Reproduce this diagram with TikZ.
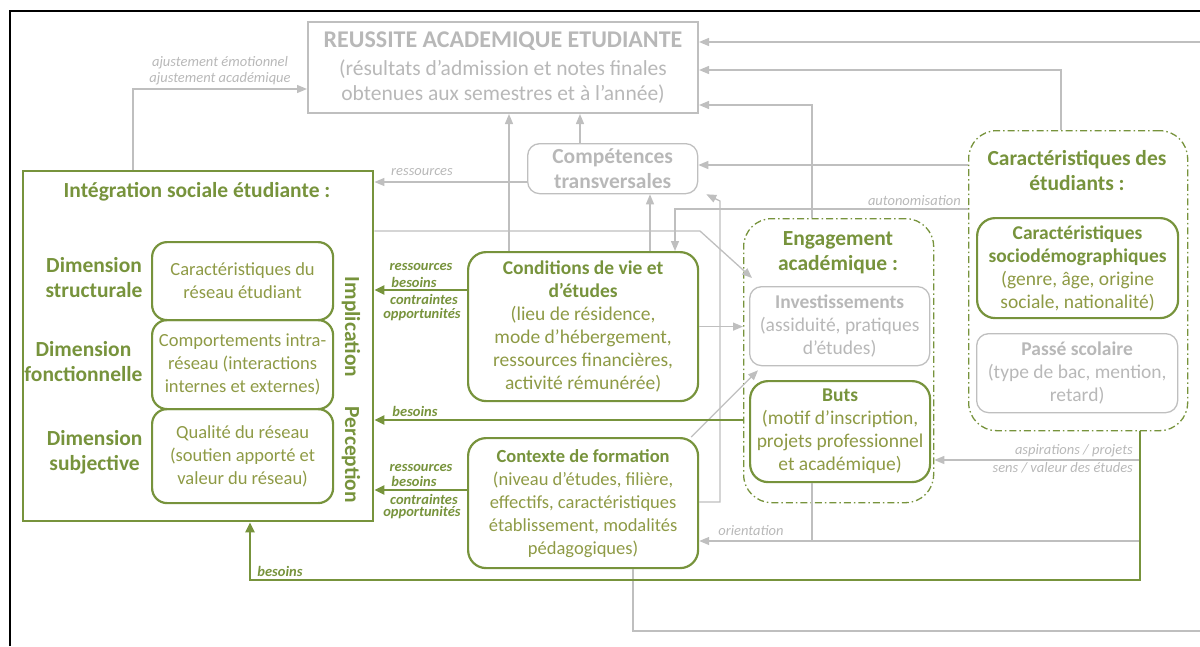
\documentclass[tikz,border=0pt]{standalone}
\usepackage{fontspec}
\setmainfont{Carlito}
\usetikzlibrary{arrows.meta,calc}
\definecolor{ogreen}{HTML}{77933C}
\definecolor{gtext}{HTML}{8E9A45}
\definecolor{lgrey}{HTML}{BFBFBF}
\definecolor{tgrey}{HTML}{B8B8B8}
\newcommand{\fsbody}{\fontsize{18.5}{23}\selectfont}
\newcommand{\fsbodyL}{\fontsize{19.5}{23}\selectfont}
\newcommand{\fsbig}{\fontsize{21.5}{25}\selectfont}
\newcommand{\fshead}{\fontsize{24}{28}\selectfont\bfseries}
\newcommand{\fstitle}{\fontsize{21.5}{25}\selectfont\bfseries}
\newcommand{\fslab}{\fontsize{14.5}{16}\selectfont\itshape}
\tikzset{
  gline/.style={draw=lgrey, line width=1.3pt},
  garrow/.style={gline, -{Triangle[length=10pt,width=8pt]}},
  gnline/.style={draw=ogreen, line width=2.2pt},
  gnarrow/.style={gnline, -{Triangle[length=10pt,width=9pt]}},
  greenbox/.style={draw=ogreen, line width=2.2pt, rounded corners=18pt, align=center, text=gtext, font=\fsbody, inner sep=2pt, anchor=north west},
  greybox/.style={draw=lgrey, line width=1.3pt, rounded corners=12pt, align=center, text=tgrey, font=\fsbodyL, inner sep=2pt, anchor=north west},
  dashbox/.style={draw=ogreen, line width=1.3pt, rounded corners=28pt, dash pattern=on 7pt off 3pt on 1.5pt off 3pt, anchor=north west, inner sep=0pt},
  greylab/.style={text=tgrey, font=\fslab, inner sep=0pt},
  greenlab/.style={text=ogreen, font=\fslab\bfseries, inner sep=0pt},
  dimlab/.style={text=ogreen, font=\fstitle, align=center, anchor=east},
}
\begin{document}
\begin{tikzpicture}[x=1pt,y=-1pt]
\useasboundingbox (0,0) rectangle (1200,646);
% frame
\draw[black, line width=1.4pt] (10,646) -- (10,11) -- (1200,11);

% REUSSITE
\node[draw=lgrey, line width=2pt, align=center, text=tgrey, font=\fsbig, anchor=north west, minimum width=390pt, minimum height=91pt, inner sep=0pt] (reu) at (307,21)
 {{\fshead REUSSITE ACADEMIQUE ETUDIANTE}\\[3pt](résultats d’admission et notes finales\\obtenues aux semestres et à l’année)};

% Competences
\node[greybox, minimum width=170pt, minimum height=50pt, font=\fstitle, inner sep=0pt] (comp) at (527,143) {Compétences\\transversales};

% Integration
\node[draw=ogreen, line width=2.4pt, anchor=north west, minimum width=350pt, minimum height=350pt, inner sep=0pt] (integ) at (22,170) {};
\node[text=ogreen, font=\fstitle] (integT) at (197,192) {Intégration sociale étudiante :};
\node[greenbox, rounded corners=15pt, minimum width=181pt, minimum height=78pt] (s1) at (151,241) {Caractéristiques du\\réseau étudiant};
\node[greenbox, rounded corners=15pt, minimum width=181pt, minimum height=89pt] (s2) at (151,319) {Comportements intra-\\réseau (interactions\\internes et externes)};
\node[greenbox, rounded corners=15pt, minimum width=181pt, minimum height=94pt] (s3) at (151,408) {Qualité du réseau\\(soutien apporté et\\valeur du réseau)};
\node[dimlab] (d1) at (146,278) {Dimension\\structurale};
\node[dimlab] (d2) at (146,362) {Dimension\\fonctionnelle};
\node[dimlab] (d3) at (146,452) {Dimension\\subjective};
\node[text=ogreen, font=\fstitle, rotate=-90, inner sep=0pt] (impl) at (351,327) {Implication};
\node[text=ogreen, font=\fstitle, rotate=-90, inner sep=0pt] (perc) at (351,455) {Perception};

% Conditions and Contexte
\node[greenbox, font=\fsbodyL, minimum width=230pt, minimum height=149pt] (cond) at (467,251)
 {{\bfseries\color{ogreen}Conditions de vie et}\\{\bfseries\color{ogreen}d’études}\\(lieu de résidence,\\mode d’hébergement,\\ressources financières,\\activité rémunérée)};
\node[greenbox, minimum width=230pt, minimum height=130pt] (ctx) at (467,437)
 {{\bfseries\color{ogreen}Contexte de formation}\\(niveau d’études, filière,\\effectifs, caractéristiques\\établissement, modalités\\pédagogiques)};

% Engagement
\node[dashbox, minimum width=190pt, minimum height=284pt] (eng) at (743,218) {};
\node[text=ogreen, font=\fstitle, align=center, inner sep=0pt] (engT) at (838,253) {Engagement\\académique :};
\node[greybox, minimum width=180pt, minimum height=79pt] (inv) at (749,286) {{\bfseries Investissements}\\(assiduité, pratiques\\d’études)};
\node[greenbox, font=\fsbodyL, minimum width=180pt, minimum height=101pt] (buts) at (749,380) {{\bfseries\color{ogreen}Buts}\\(motif d’inscription,\\projets professionnel\\et académique)};

% Caracteristiques des etudiants
\node[dashbox, minimum width=219pt, minimum height=300pt] (carE) at (968,130) {};
\node[text=ogreen, font=\fstitle, align=center, inner sep=0pt] (carT) at (1077,171) {Caractéristiques des\\étudiants :};
\node[greenbox, font=\fsbodyL, minimum width=201pt, minimum height=100pt] (socio) at (976,217) {{\bfseries\color{ogreen}Caractéristiques}\\{\bfseries\color{ogreen}sociodémographiques}\\(genre, âge, origine\\sociale, nationalité)};
\node[greybox, minimum width=201pt, minimum height=79pt] (passe) at (976,333) {{\bfseries Passé scolaire}\\(type de bac, mention,\\retard)};

% ---- grey connectors
\coordinate (edgeTop) at (1200,42);
\draw[garrow] (edgeTop) -- (reu.east |- edgeTop);
\draw[garrow] (carE.north -| 1061,0) |- (reu.east |- 0,70);
\draw[garrow] (eng.north -| 812,0) |- (reu.east |- 0,105);
\draw[garrow] (integ.north -| 133,0) |- (reu.west |- 0,89);
\node[greylab] (aj1) at (220,63) {ajustement émotionnel};
\node[greylab] (aj2) at (220,79) {ajustement académique};
\draw[garrow] (comp.north -| 580,0) -- (reu.south -| 580,0);
\draw[garrow] (cond.north -| 509,0) -- (reu.south -| 509,0);
\draw[garrow] (comp.west |- 0,182) -- (integ.east |- 0,182);
\node[greylab] (lres) at (422,172) {ressources};
\draw[garrow] (carE.west |- 0,165) -- (comp.east |- 0,165);
\draw[garrow] (cond.north -| 650,0) -- (comp.south -| 650,0);
\draw[garrow] (ctx.east |- 0,502) -- (720,502) -- (720,201) -- ($(comp.south east)+(8,0)$);
\draw[garrow] (carE.west |- 0,209) -- (675,209) -- (cond.north -| 675,0);
\node[greylab, anchor=east] (lauto) at (961,201) {autonomisation};
\draw[garrow] (integ.east |- 0,231) -- (700,231) -- ($(inv.north west)+(3,-8)$);
\draw[garrow] (cond.east) -- (eng.west |- cond.east);
\draw[garrow] ($(ctx.north east)+(-8,0)$) -- ($(inv.south west)+(9,4)$);
\draw[garrow] (1140,460) -- (eng.east |- 0,460);
\node[greylab, anchor=east] (lasp) at (1133,451) {aspirations / projets};
\node[greylab, anchor=east] (lsens) at (1133,468) {sens / valeur des études};
\draw[gline] (buts.south -| 812,0) -- (812,541);
\draw[garrow] (1140,541) -- (ctx.east |- 0,541);
\node[greylab] (lori) at (751,531) {orientation};
\coordinate (edgeBot) at (1200,631);
\draw[gline] (ctx.south -| 633,0) |- (edgeBot);

% ---- green connectors
\draw[gnarrow] (cond.west |- 0,290) -- (integ.east |- 0,290);
\node[greenlab] at (421,267) {ressources};
\node[greenlab] at (414,282) {besoins};
\node[greenlab] at (424,299) {contraintes};
\node[greenlab] at (422,315) {opportunités};
\draw[gnarrow] (ctx.west |- 0,490) -- (integ.east |- 0,490);
\node[greenlab] at (421,468) {ressources};
\node[greenlab] at (414,481) {besoins};
\node[greenlab] at (424,499) {contraintes};
\node[greenlab] at (422,513) {opportunités};
\draw[gnarrow] (eng.west |- 0,420) -- (integ.east |- 0,420);
\node[greenlab] at (415,411) {besoins};
\draw[gnarrow] (carE.south -| 1140,0) -- (1140,580) -- (250,580) -- (integ.south -| 250,0);
\node[greenlab] at (280,571) {besoins};
\end{tikzpicture}
\end{document}
